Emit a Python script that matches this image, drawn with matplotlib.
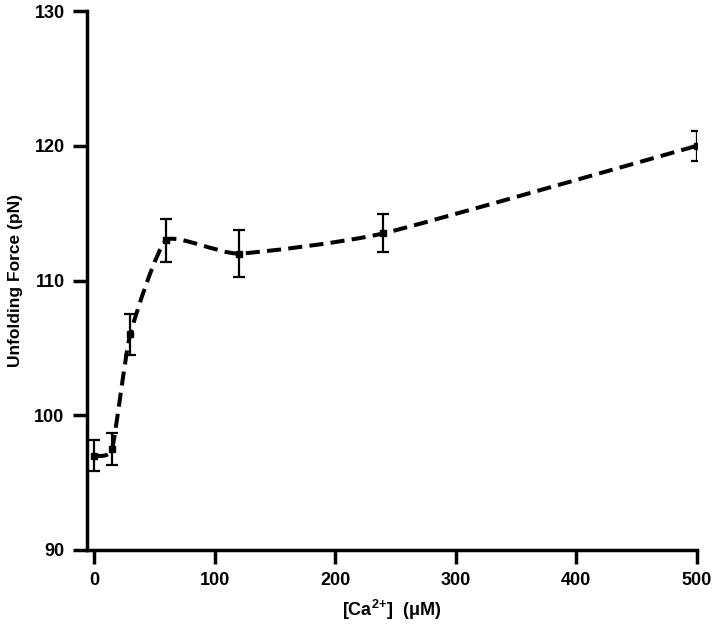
import numpy as np
import matplotlib
matplotlib.use("Agg")
import matplotlib.pyplot as plt
from matplotlib.path import Path
from matplotlib.patches import PathPatch

# data
ca_conc = [0, 15, 30, 60, 120, 240, 500]
force = [97.0, 97.5, 106.0, 113.0, 112.0, 113.5, 120.0]
force_err = [1.15, 1.2, 1.55, 1.6, 1.75, 1.4, 1.1]

plt.rcParams['font.family'] = ['Liberation Sans', 'DejaVu Sans']
plt.rcParams['font.weight'] = 'bold'
plt.rcParams['mathtext.fontset'] = 'custom'
plt.rcParams['mathtext.rm'] = 'Liberation Sans:bold'
plt.rcParams['mathtext.bf'] = 'Liberation Sans:bold'
plt.rcParams['mathtext.default'] = 'bf'

fig = plt.figure(figsize=(7.17, 6.3), dpi=100)
ax = fig.add_axes([0.121, 0.127, 0.851, 0.8555])

# smooth dashed curve through the points (Catmull-Rom with reduced tension)
x = np.array(ca_conc, dtype=float)
y = np.array(force)
k = 0.5 / 6.0
verts = [(x[0], y[0])]
codes = [Path.MOVETO]
for i in range(len(x) - 1):
    p0 = np.array([x[max(i - 1, 0)], y[max(i - 1, 0)]])
    p1 = np.array([x[i], y[i]])
    p2 = np.array([x[i + 1], y[i + 1]])
    p3 = np.array([x[min(i + 2, len(x) - 1)], y[min(i + 2, len(x) - 1)]])
    c1 = p1 + (p2 - p0) * k
    c2 = p2 - (p3 - p1) * k
    verts += [tuple(c1), tuple(c2), tuple(p2)]
    codes += [Path.CURVE4] * 3
patch = PathPatch(Path(verts, codes), facecolor='none', edgecolor='black',
                  lw=2.9, linestyle=(0, (3.5, 1.8)))
ax.add_patch(patch)

ax.errorbar(ca_conc, force, yerr=force_err, fmt='s', color='black',
            markersize=5, capsize=4.5, elinewidth=1.6, capthick=1.6)

ax.set_xlim(-6, 500)
ax.set_ylim(90, 130)
ax.set_xticks([0, 100, 200, 300, 400, 500])
ax.set_yticks([90, 100, 110, 120, 130])
ax.spines['top'].set_visible(False)
ax.spines['right'].set_visible(False)
for s in ['left', 'bottom']:
    ax.spines[s].set_linewidth(2.5)
ax.tick_params(direction='out', length=10, width=2.5, labelsize=13, pad=6)

ax.set_xlabel(r'[Ca$^{2{+}}$]  (μM)', fontsize=13, fontweight='bold', labelpad=6)
ax.set_ylabel('Unfolding Force (pN)', fontsize=12.5, fontweight='bold', labelpad=8)

fig.savefig('out.png', dpi=100)
